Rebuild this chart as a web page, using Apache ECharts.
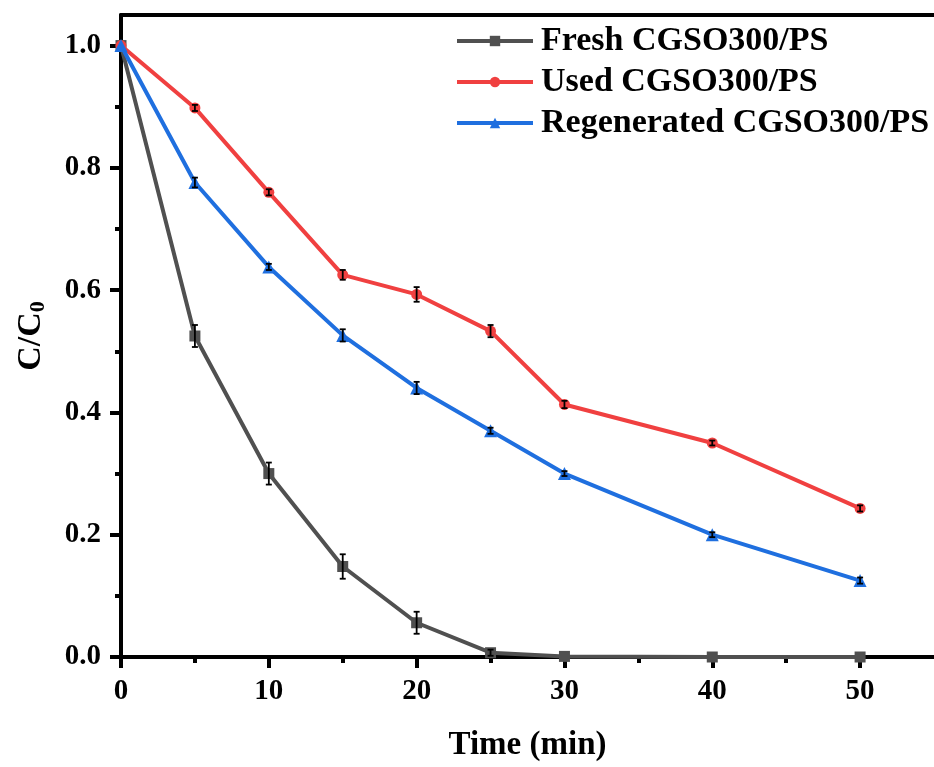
<!DOCTYPE html>
<html>
<head>
<meta charset="utf-8">
<script src="https://cdn.jsdelivr.net/npm/echarts@6/dist/echarts.min.js"></script>
<style>html,body{margin:0;padding:0;background:#fff}#c{width:934px;height:767px}</style>
</head>
<body>
<div id="c"></div>
<script>
const time = [0, 5, 10, 15, 20, 25, 30, 40, 50];
const fresh = [1.0, 0.525, 0.300, 0.148, 0.056, 0.007, 0.001, 0.0, 0.0];
const freshErr = [0, 0.018, 0.018, 0.02, 0.018, 0.005, 0, 0, 0];
const used = [1.0, 0.898, 0.760, 0.625, 0.593, 0.533, 0.413, 0.350, 0.243];
const usedErr = [0, 0.005, 0.005, 0.008, 0.012, 0.01, 0.006, 0.004, 0.005];
const regen = [1.0, 0.776, 0.638, 0.526, 0.440, 0.370, 0.300, 0.200, 0.125];
const regenErr = [0, 0.008, 0.005, 0.01, 0.01, 0.005, 0.004, 0.004, 0.005];
const names = ['Fresh CGSO300/PS', 'Used CGSO300/PS', 'Regenerated CGSO300/PS'];
const xMajor = [0, 10, 20, 30, 40, 50];
const xMinor = [5, 15, 25, 35, 45];
const yMajor = [0, 0.2, 0.4, 0.6, 0.8, 1.0];
const yMinor = [0.1, 0.3, 0.5, 0.7, 0.9];

const colors = ['#505050', '#f04040', '#1f6fdf'];
const FONT = '"Liberation Serif", "Times New Roman", serif';

function pairs(ys) { return time.map((t, i) => [t, ys[i]]); }
function errData(ys, es) { return time.map((t, i) => [t, ys[i] - es[i], ys[i] + es[i]]).filter((d, i) => es[i] > 0); }

function errSeries(ys, es) {
  return {
    type: 'custom', xAxisIndex: 0, yAxisIndex: 0, z: 10, silent: true,
    data: errData(ys, es),
    renderItem: function (params, api) {
      const x = api.value(0);
      const lo = api.coord([x, api.value(1)]);
      const hi = api.coord([x, api.value(2)]);
      const w = 3;
      const st = { stroke: '#000', lineWidth: 1.8 };
      return {
        type: 'group', children: [
          { type: 'line', shape: { x1: lo[0], y1: lo[1], x2: hi[0], y2: hi[1] }, style: st },
          { type: 'line', shape: { x1: lo[0] - w, y1: lo[1], x2: lo[0] + w, y2: lo[1] }, style: st },
          { type: 'line', shape: { x1: hi[0] - w, y1: hi[1], x2: hi[0] + w, y2: hi[1] }, style: st }
        ]
      };
    }
  };
}

function lineSeries(i, ys, symbol, size) {
  return {
    name: names[i], type: 'line', xAxisIndex: 0, yAxisIndex: 0,
    data: pairs(ys), symbol: symbol, symbolSize: size, showSymbol: true,
    lineStyle: { color: colors[i], width: 4 },
    itemStyle: { color: colors[i], borderWidth: 0 },
    z: 5 + i
  };
}

const axisLineStyle = { color: '#000', width: 4 };

const chart = echarts.init(document.getElementById('c'), null, { renderer: 'canvas' });
chart.setOption({
  animation: false,
  backgroundColor: '#fff',
  grid: { left: 121, top: 15, right: -2, bottom: 105, containLabel: false },
  legend: {
    orient: 'vertical', left: 450, top: 19, itemWidth: 76, itemHeight: 13, itemGap: 7,
    data: names,
    lineStyle: { width: 4 },
    textStyle: { fontFamily: FONT, fontWeight: 'bold', fontSize: 34, color: '#000', padding: [0, 0, 0, 3] }
  },
  xAxis: [
    {
      type: 'value', min: 0, max: 55, position: 'bottom',
      axisLine: { show: true, onZero: false, lineStyle: axisLineStyle },
      axisTick: { show: true, customValues: xMajor, length: 11, lineStyle: { color: '#000', width: 4 } },
      axisLabel: { customValues: xMajor, fontFamily: FONT, fontWeight: 'bold', fontSize: 29, color: '#000', margin: 20 },
      splitLine: { show: false },
      name: 'Time (min)', nameLocation: 'middle', nameGap: 72,
      nameTextStyle: { fontFamily: FONT, fontWeight: 'bold', fontSize: 33, color: '#000' }
    },
    {
      type: 'value', min: 0, max: 55, position: 'bottom',
      axisLine: { show: false },
      axisTick: { show: true, customValues: xMinor, length: 6, lineStyle: { color: '#000', width: 4 } },
      axisLabel: { show: false }, splitLine: { show: false }
    },
    {
      type: 'value', min: 0, max: 55, position: 'top',
      axisLine: { show: true, onZero: false, lineStyle: axisLineStyle },
      axisTick: { show: false }, axisLabel: { show: false }, splitLine: { show: false }
    }
  ],
  yAxis: [
    {
      type: 'value', min: 0, max: 1.05, position: 'left',
      axisLine: { show: true, onZero: false, lineStyle: axisLineStyle },
      axisTick: { show: true, customValues: yMajor, length: 11, lineStyle: { color: '#000', width: 4 } },
      axisLabel: { customValues: yMajor, formatter: v => v.toFixed(1), fontFamily: FONT, fontWeight: 'bold', fontSize: 29, color: '#000', margin: 20 },
      splitLine: { show: false },
      name: '{a|C/C}{b|0}', nameLocation: 'middle', nameGap: 72, nameRotate: 90,
      nameTextStyle: {
        rich: {
          a: { fontFamily: FONT, fontWeight: 'bold', fontSize: 34, color: '#000' },
          b: { fontFamily: FONT, fontWeight: 'bold', fontSize: 22, color: '#000', verticalAlign: 'bottom', padding: [14, 0, 0, 0] }
        }
      }
    },
    {
      type: 'value', min: 0, max: 1.05, position: 'left',
      axisLine: { show: false },
      axisTick: { show: true, customValues: yMinor, length: 6, lineStyle: { color: '#000', width: 4 } },
      axisLabel: { show: false }, splitLine: { show: false }
    }
  ],
  series: [
    lineSeries(0, fresh, 'rect', 11),
    lineSeries(1, used, 'circle', 11),
    lineSeries(2, regen, 'triangle', 13),
    errSeries(fresh, freshErr),
    errSeries(used, usedErr),
    errSeries(regen, regenErr)
  ]
});
</script>
</body>
</html>
